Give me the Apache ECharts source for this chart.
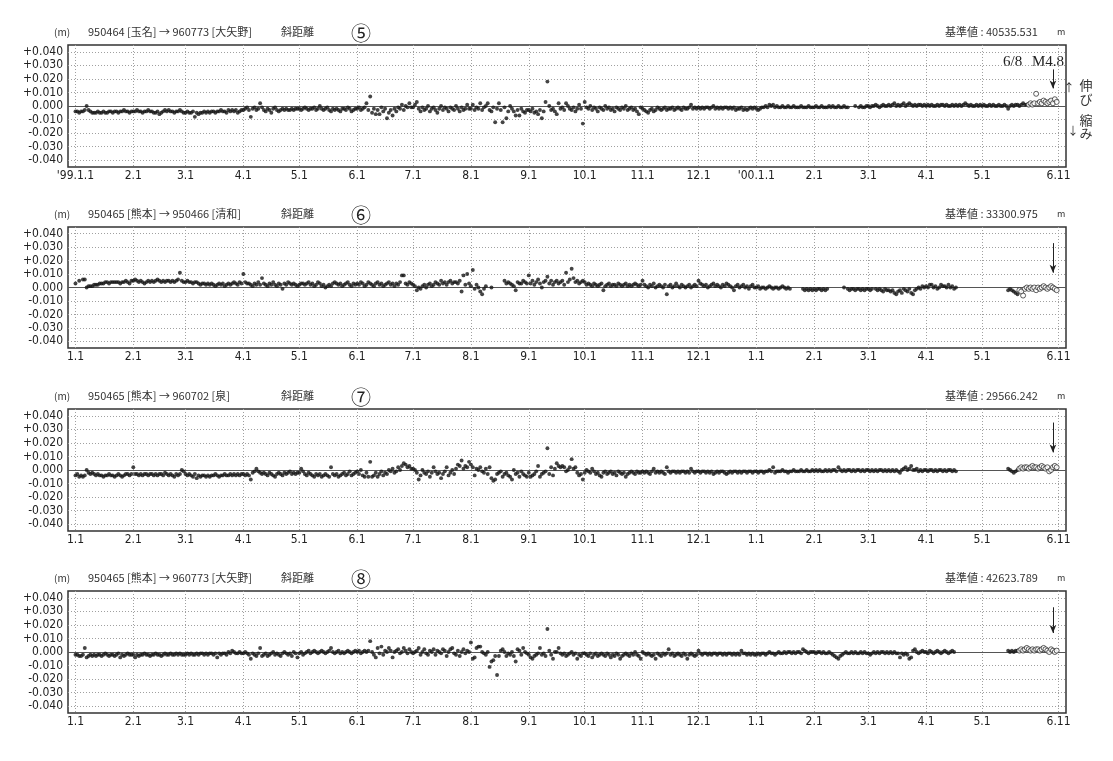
<!DOCTYPE html>
<html><head><meta charset="utf-8">
<script src="https://cdn.jsdelivr.net/npm/echarts@6/dist/echarts.min.js"></script>
<style>html,body{margin:0;padding:0;background:#fff}#c{width:1113px;height:761px}</style>
</head><body><div id="c"></div>
<script>
const _ = null;
// x axis extent and tick labels
const xStart = '1998-12-28', xEnd = '2000-06-15';
const tickDates = ['1999-01-01','1999-02-01','1999-03-01','1999-04-01','1999-05-01','1999-06-01','1999-07-01','1999-08-01','1999-09-01','1999-10-01','1999-11-01','1999-12-01','2000-01-01','2000-02-01','2000-03-01','2000-04-01','2000-05-01','2000-06-11'];
const tickLabels = ['1.1','2.1','3.1','4.1','5.1','6.1','7.1','8.1','9.1','10.1','11.1','12.1','1.1','2.1','3.1','4.1','5.1','6.11'];
const tickLabelsTop = ["'99.1.1",'2.1','3.1','4.1','5.1','6.1','7.1','8.1','9.1','10.1','11.1','12.1',"'00.1.1",'2.1','3.1','4.1','5.1','6.11'];
const yTickValues = [0.04,0.03,0.02,0.01,0,-0.01,-0.02,-0.03,-0.04];
const yTickLabels = ['+0.040','+0.030','+0.020','+0.010','0.000','-0.010','-0.020','-0.030','-0.040'];

const panelNumbers = ['⑤','⑥','⑦','⑧'];
const panelRoutes = ['950464 [玉名] → 960773 [大矢野]','950465 [熊本] → 950466 [清和]','950465 [熊本] → 960702 [泉]','950465 [熊本] → 960773 [大矢野]'];
const panelKind = '斜距離';
const baseValues = ['40535.531','33300.975','29566.242','42623.789'];
const quakeDate = '2000-06-08';
const quakeLabel = ['6/8','M4.8'];
const arrowFrom = [0.027, 0.033, 0.035, 0.033];
const arrowTo = [0.013, 0.011, 0.013, 0.014];

// daily values in mm, filled dots, from 1999-01-01
const filledStart = '1999-01-01';
const dist5 = [
-4,-4,-5,-4,-4,-3,0,-3,-4,-5,-5,-5,-4,-5,-5,-4,-5,-5,-4,-4,-5,-4,-4,-5,-4,-4,-3,-4,-4,-5,-4,
-4,-4,-3,-4,-4,-5,-4,-4,-3,-4,-4,-5,-5,-4,-6,-5,-4,-3,-4,-3,-4,-4,-5,-4,-4,-3,-4,-5,
-5,-4,-5,-5,-4,-8,-5,-6,-5,-5,-4,-5,-4,-5,-4,-4,-5,-4,-4,-3,-4,-4,-5,-3,-4,-3,-4,-3,-5,-4,-3,
-3,-2,-1,-3,-8,-2,-1,-3,-2,2,-1,-3,-4,-2,-3,-5,-2,-1,-3,-4,-3,-2,-3,-2,-3,-3,-2,-3,-2,-2,
-2,-3,-2,-1,-2,-3,-2,-2,-1,-3,-2,0,-2,-3,-2,-1,-3,-4,-2,-3,-2,-3,-4,-2,-2,-3,-1,-2,-4,-3,-2,
-2,-1,-3,-2,-1,2,-3,7,-5,-2,-6,-3,-6,-1,-4,-2,-9,-5,-3,-7,-2,-4,-1,-2,1,-3,0,-1,2,-1,
-1,1,3,-2,-4,-1,-3,-2,0,-4,-2,-1,-3,-5,-2,0,-3,-1,-2,-4,-1,-2,-3,0,-2,-4,-1,-3,-2,1,-2,
-2,1,-3,-1,-2,2,-3,-1,0,2,-3,-4,-1,-12,-2,2,-3,-12,-1,-9,-4,0,-2,-4,-7,-3,-7,-2,-4,-5,-3,
-3,-4,-2,-5,-4,-6,-3,-9,-4,3,18,0,-3,-2,-4,-6,2,-2,-1,-3,2,0,-2,-3,-1,-4,-2,1,-2,-13,
3,-1,-2,0,-3,-1,-2,-4,-1,-2,-3,0,-2,-1,-3,-2,-4,-1,-2,-3,-1,-2,0,-3,-2,-1,-3,-2,-4,-6,-1,
-2,-3,-4,-5,-3,-2,-4,-3,-1,-2,-3,-2,-1,-3,-2,-2,-1,-3,-2,-1,-2,-3,-1,-2,-2,-1,1,-2,-1,-2,
-1,-2,-1,-2,-1,-1,-2,-1,0,-2,-1,-2,-1,-2,-1,-1,-2,-1,-2,-1,-3,-2,-2,-1,-3,-2,-3,-2,-1,-2,-1,
-2,-3,-2,-1,-1,0,-1,1,0,1,-1,0,-1,-1,0,-1,-1,0,-1,-1,0,-1,-1,-1,0,-1,-1,-1,0,-1,-1,
-1,0,-1,-1,0,-1,-1,-1,0,-1,0,-1,-1,0,-1,-1,0,-1,-1,_,_,_,0,_,-1,0,-1,-1,0,
0,-1,0,0,1,0,-1,0,1,0,0,1,0,1,2,0,1,0,1,2,0,1,2,1,0,1,0,1,1,0,1,
0,1,0,1,0,0,1,0,1,1,0,1,0,0,1,0,1,0,1,0,1,2,1,0,1,0,0,1,0,1,
0,1,0,0,1,0,1,0,0,1,0,0,1,0,-2,0,1,0,1,1,0,1,2,1,1
];
const dist6 = [
3,_,5,_,6,6,0,1,1,1,2,2,2,3,3,3,4,4,3,4,4,4,4,4,3,4,4,5,4,3,5,
5,6,5,4,5,4,3,4,5,4,5,4,5,6,5,4,5,4,5,5,4,5,4,5,6,11,5,4,
4,5,4,4,3,4,4,3,2,3,3,2,3,2,3,2,1,2,3,2,3,1,2,3,2,3,4,3,2,4,3,
10,4,3,3,2,1,3,2,4,2,7,3,2,1,3,2,4,2,1,3,2,-1,3,2,4,3,2,3,2,1,
2,3,3,2,3,4,2,3,1,2,4,3,1,2,0,1,2,1,3,4,3,2,3,1,2,3,4,2,1,3,2,
3,2,4,3,1,2,4,3,2,1,3,4,2,3,1,2,3,4,2,3,1,3,2,4,9,9,3,2,4,3,
2,1,-2,0,-1,1,2,0,2,3,1,2,4,3,2,5,3,4,2,4,5,3,4,4,3,5,-3,9,2,10,3,
1,13,-1,2,0,-3,-5,-1,1,_,_,0,_,_,_,_,_,_,5,3,4,3,2,1,-2,4,3,3,5,4,3,
9,3,5,2,4,6,3,0,4,5,8,3,5,2,4,5,3,4,5,2,11,4,6,14,7,4,5,3,4,5,
4,2,3,2,1,3,2,1,2,3,-2,1,2,3,1,2,2,1,3,2,1,2,3,1,2,1,2,3,2,1,2,
5,2,1,0,2,1,3,0,1,2,1,0,2,-5,1,2,0,1,3,1,0,2,1,0,1,2,0,1,2,1,
5,3,2,1,2,0,1,2,3,1,2,1,0,2,1,3,2,1,0,-2,1,2,0,1,2,0,1,-1,1,2,0,
0,1,-1,0,0,-1,0,1,0,-1,0,0,-1,0,1,0,-1,0,-1,_,_,_,_,_,_,-1,-2,-1,-2,-1,-2,
-1,-2,-1,-1,-2,-1,-2,-1,_,_,_,_,_,_,_,_,0,_,-1,-2,-1,-1,-2,-1,-1,-2,-1,-2,-1,
-1,-2,-1,_,-1,-2,-1,-2,-3,-1,-2,-2,-3,-2,-4,-5,-3,-2,-4,-1,-2,-3,-1,-4,-5,-2,-1,0,-1,1,0,
1,0,2,2,0,1,-1,0,2,1,1,0,2,0,1,-1,0,_,_,_,_,_,_,_,_,_,_,_,_,_,
_,_,_,_,_,_,_,_,_,_,_,_,_,_,-2,-1,-2,-3,-4,-5
];
const dist7 = [
-4,-3,-5,-4,-5,-4,0,-2,-3,-2,-3,-4,-3,-4,-4,-5,-4,-4,-3,-4,-4,-5,-4,-3,-4,-5,-4,-3,-3,-4,-3,
2,-3,-3,-4,-3,-4,-3,-3,-4,-3,-3,-4,-3,-4,-3,-3,-4,-2,-3,-4,-3,-4,-5,-3,-4,-3,0,-1,
-3,-4,-3,-4,-5,-3,-6,-4,-5,-4,-4,-5,-4,-5,-4,-4,-3,-4,-5,-4,-4,-3,-4,-4,-3,-4,-3,-4,-3,-4,-3,
-3,-4,-3,-4,-7,-2,-1,1,-1,-2,-3,-2,-3,-4,-2,-3,-4,-5,-3,-2,-3,-4,-2,-3,-2,-1,-3,-2,-3,-2,
-2,1,-1,-3,-4,-2,-3,-4,-5,-3,-4,-3,-5,-4,-3,-4,-5,2,-3,-4,-3,-5,-4,-3,-2,-4,-3,-1,-4,-3,-2,
-1,-3,0,-4,-5,-2,-5,6,-5,-4,-2,-5,-3,-1,-4,-2,-3,0,-1,1,-2,-1,2,0,3,5,4,2,3,1,
1,0,-2,-7,-4,0,-2,-3,-1,-5,-2,2,-1,-3,-2,-6,-3,-1,2,-4,-2,0,-3,1,4,3,7,1,3,2,6,
4,2,-4,1,0,2,-1,-2,1,-3,2,-6,-8,-7,-3,-2,-1,-5,-3,-2,-4,-5,-7,0,-3,-2,-5,-1,-3,-4,-5,
-2,-5,-4,-3,-1,3,-5,-3,-2,-1,16,-3,2,-4,1,5,3,2,3,2,-1,0,2,8,1,2,-2,-4,-3,-7,
-2,0,-1,-2,1,-1,-3,-2,-4,-5,-2,-1,-3,-2,-1,-3,-2,-4,-1,-2,-3,-2,-5,-3,-2,-1,-2,-3,-1,-2,-2,
-1,-2,-1,-2,-3,-1,1,-2,-1,-2,-1,-2,-3,2,-1,-2,-1,-1,-2,-1,-2,-1,-1,-2,-1,-2,1,-1,-2,-1,
-1,-2,-1,-1,-2,-1,-2,-1,-3,-2,-1,-2,-1,-1,-2,-3,-2,-1,-2,-1,-1,-2,-1,-2,-1,-1,-2,-1,-1,-2,-1,
-1,-2,-1,-1,-2,-1,-1,0,-1,2,-2,-1,-1,-1,0,-1,-1,-2,-1,-1,0,-1,-1,-1,0,-1,-1,0,-1,-1,0,
-1,0,-1,0,-1,-1,0,-1,0,-1,0,0,-1,2,0,-1,0,-1,0,0,-1,0,-1,0,0,-1,0,-1,0,
0,-1,0,-1,0,-1,0,0,-1,0,-1,0,-1,0,-1,0,-1,-2,0,1,2,0,1,3,0,0,1,-1,0,-1,0,
0,-1,0,0,-1,0,-1,0,0,-1,0,-1,0,0,-1,0,-1,_,_,_,_,_,_,_,_,_,_,_,_,_,
_,_,_,_,_,_,_,_,_,_,_,_,_,_,1,0,-1,-2,-1,0
];
const dist8 = [
-2,-2,-3,-3,-2,3,-4,-3,-2,-3,-2,-3,-2,-2,-3,-2,-1,-2,-3,-2,-2,-3,-2,-1,-4,-2,-3,-2,-1,-2,-2,
-2,-4,-2,-3,-2,-2,-1,-2,-2,-3,-2,-2,-1,-2,-2,-3,-2,-1,-2,-2,-1,-2,-2,-1,-2,-1,-2,-2,
-2,-1,-2,-1,-2,-2,-1,-2,-1,-1,-2,-1,-2,-1,-1,-2,-1,-4,-1,-2,-1,-1,-2,0,-1,1,0,-1,-1,0,-1,
-1,0,-1,-2,-5,-1,-2,-3,-1,3,-3,-2,-1,-3,-2,-1,0,-2,-1,-2,-3,-1,0,-1,-2,-1,-3,0,-1,-4,
-1,0,-2,-1,0,1,-1,0,1,0,-1,0,1,0,-1,0,1,3,0,-1,0,1,-1,0,-1,0,1,0,-1,0,1,
0,1,-1,0,1,0,1,8,0,-2,-4,3,-1,4,-2,1,0,3,1,-4,0,1,2,-1,0,3,1,-1,2,0,
-1,0,1,3,-2,0,2,-1,-2,1,0,2,-2,1,0,-1,2,1,-3,0,2,3,-1,-2,1,-3,0,2,-1,1,0,
7,-5,-4,3,4,4,0,-1,-2,0,-11,-7,-6,-3,-17,-3,1,2,0,-3,-1,-2,0,-3,-7,2,1,-2,3,0,-1,
-2,-4,-5,-3,-2,-1,3,-2,-1,-3,17,1,-2,-5,0,0,3,-1,-2,-1,-3,-2,-1,0,-2,-1,-5,-2,-3,-1,
-1,-2,-3,-1,-4,-2,-1,-3,-2,-1,-2,-3,-1,-2,-4,-2,-3,-1,-2,-5,-3,-2,-1,-2,-3,-1,-2,0,-2,-3,-5,
0,-1,-2,-1,-2,-3,-2,-5,-1,-2,-3,-1,-2,-1,2,-2,-1,-3,-2,-1,-2,-3,-1,-2,-5,-2,-1,-2,-3,-2,
1,-1,-2,-1,-1,-2,-1,-2,-1,-1,-2,-1,-1,-2,-1,-2,-1,-1,-2,-1,-2,-1,-2,1,-1,-1,-2,-1,-2,-1,-2,
-2,-1,-2,-1,-1,-2,-1,0,-1,-1,-2,-1,0,-1,-1,0,-1,0,0,-1,0,-1,0,0,-1,2,1,0,-1,0,0,
0,-1,0,0,-1,0,-1,-1,0,-1,-2,-3,-4,-5,-3,-2,-1,0,-1,-1,0,-1,0,-1,-1,0,-1,0,-1,
-1,-2,-1,0,-1,0,-1,0,0,-1,0,-1,0,-1,0,-1,-1,-4,-1,-2,-1,-2,-5,-4,1,2,0,-1,0,1,0,
0,-1,1,0,-1,0,1,0,-1,0,1,0,-1,0,1,0,_,_,_,_,_,_,_,_,_,_,_,_,_,_,
_,_,_,_,_,_,_,_,_,_,_,_,_,_,1,0,1,0,1,1
];
// recent observations drawn as open circles (mm)
const openStarts = ['2000-05-26','2000-05-21','2000-05-21','2000-05-21'];
const open5 = [1,2,1,2,9,2,3,2,4,3,2,3,4,2,5,3];
const open6 = [-2,-3,-6,-1,0,-1,0,-1,0,-2,0,-1,0,1,0,-1,0,1,0,-1,-2];
const open7 = [1,2,1,2,2,1,2,3,2,2,1,2,3,2,1,2,-1,0,2,3,2];
const open8 = [1,2,1,2,3,2,1,2,1,2,2,1,2,3,2,1,0,2,1,0,1];

const filledSets = [dist5, dist6, dist7, dist8];
const openSets = [open5, open6, open7, open8];

function addDays(s, n) { const d = new Date(s + 'T00:00:00Z'); d.setUTCDate(d.getUTCDate() + n); return d.toISOString().slice(0, 10); }
const categories = [];
for (let d = xStart; d <= xEnd; d = addDays(d, 1)) categories.push(d);
function toPoints(start, arr) { const out = []; arr.forEach((v, i) => { if (v !== null) out.push([addDays(start, i), v / 1000]); }); return out; }

const panelTops = [45, 227, 409, 591];
const panelHeights = [122, 121, 122, 122];
const numFont = "'Liberation Sans Narrow','DejaVu Sans Condensed',sans-serif";
const jpFont = "'Noto Sans CJK JP',sans-serif";
const tickSet = new Set(tickDates);
const dotStyle = { type: [1, 2], color: '#a0a0a0', width: 1 };

const grids = [], xAxes = [], yAxes = [], series = [], graphics = [];
filledSets.forEach((arr, i) => {
  const top = panelTops[i];
  grids.push({ left: 68, right: 47, top: top, height: panelHeights[i], show: true, borderColor: '#333', borderWidth: 1.5, backgroundColor: 'transparent' });
  const lbl = i === 0 ? tickLabelsTop : tickLabels;
  xAxes.push({
    type: 'category', gridIndex: i, data: categories, boundaryGap: false,
    axisLine: { show: false }, axisTick: { show: false },
    axisLabel: { interval: (idx, val) => tickSet.has(val), formatter: val => { const k = tickDates.indexOf(val); return k < 0 ? '' : lbl[k]; },
      margin: 3, fontFamily: numFont, fontSize: 12, color: '#222', hideOverlap: false },
    splitLine: { show: true, interval: (idx, val) => tickSet.has(val), lineStyle: dotStyle }
  });
  yAxes.push({
    type: 'value', gridIndex: i, min: -0.045, max: 0.045, interval: 0.005,
    axisLine: { show: false }, axisTick: { show: false }, splitLine: { show: false },
    axisLabel: { margin: 5, fontFamily: numFont, fontSize: 12, color: '#222',
      formatter: v => { const k = Math.round(v * 1000); const j = yTickValues.findIndex(t => Math.round(t * 1000) === k); return j < 0 ? '' : yTickLabels[j]; } }
  });
  const ml = yTickValues.map(v => ({ yAxis: v, lineStyle: v === 0 ? { type: 'solid', color: '#555', width: 1.2 } : dotStyle }));
  ml.push([
    { coord: [quakeDate, arrowFrom[i]], symbol: 'none', lineStyle: { type: 'solid', color: '#222', width: 1 } },
    { coord: [quakeDate, arrowTo[i]], symbol: 'arrow', symbolSize: [5, 8], lineStyle: { type: 'solid', color: '#222', width: 1 } }
  ]);
  series.push({
    type: 'scatter', xAxisIndex: i, yAxisIndex: i, data: toPoints(filledStart, arr),
    symbol: 'circle', symbolSize: 3.9, itemStyle: { color: '#151515' }, silent: true, animation: false, z: 3,
    markLine: { silent: true, animation: false, symbol: ['none', 'none'], label: { show: false }, data: ml, z: 2 }
  });
  series.push({
    type: 'scatter', xAxisIndex: i, yAxisIndex: i, data: toPoints(openStarts[i], openSets[i]),
    symbol: 'circle', symbolSize: 5, itemStyle: { color: '#fff', borderColor: '#222', borderWidth: 0.9 }, silent: true, animation: false, z: 4
  });
  const ty = top - 13;
  graphics.push(
    { type: 'text', x: 54, y: ty, style: { text: '(m)', font: "10px " + jpFont, fill: '#333', verticalAlign: 'middle' } },
    { type: 'text', x: 88, y: ty, style: { text: panelRoutes[i], font: "11px " + jpFont, fill: '#333', verticalAlign: 'middle' } },
    { type: 'text', x: 281, y: ty, style: { text: panelKind, font: "11px " + jpFont, fill: '#333', verticalAlign: 'middle' } },
    { type: 'text', x: 361, y: ty + 1, style: { text: panelNumbers[i], font: "20px " + jpFont, fill: '#222', align: 'center', verticalAlign: 'middle' } },
    { type: 'text', x: 945, y: ty, style: { text: '基準値 : ' + baseValues[i], font: "11px " + jpFont, fill: '#333', verticalAlign: 'middle' } },
    { type: 'text', x: 1057, y: ty, style: { text: 'm', font: "9px " + jpFont, fill: '#333', verticalAlign: 'middle' } }
  );
});
graphics.push(
  { type: 'text', x: 1003, y: 62, style: { text: quakeLabel[0], font: "15px 'Liberation Serif',serif", fill: '#222', verticalAlign: 'middle' } },
  { type: 'text', x: 1032, y: 62, style: { text: quakeLabel[1], font: "15px 'Liberation Serif',serif", fill: '#222', verticalAlign: 'middle' } },
  { type: 'text', x: 1069, y: 88, style: { text: '↑', font: "11px " + jpFont, fill: '#333', align: 'center', verticalAlign: 'middle' } },
  { type: 'text', x: 1086, y: 92, style: { text: '伸\nび', font: "13px " + jpFont, lineHeight: 14, fill: '#333', align: 'center', verticalAlign: 'middle' } },
  { type: 'text', x: 1086, y: 127, style: { text: '縮\nみ', font: "13px " + jpFont, lineHeight: 13, fill: '#333', align: 'center', verticalAlign: 'middle' } },
  { type: 'text', x: 1073, y: 131, style: { text: '↓', font: "11px " + jpFont, fill: '#333', align: 'center', verticalAlign: 'middle' } }
);

const chart = echarts.init(document.getElementById('c'));
chart.setOption({ backgroundColor: '#fff', animation: false, grid: grids, xAxis: xAxes, yAxis: yAxes, series: series, graphic: graphics });
</script>
</body></html>
